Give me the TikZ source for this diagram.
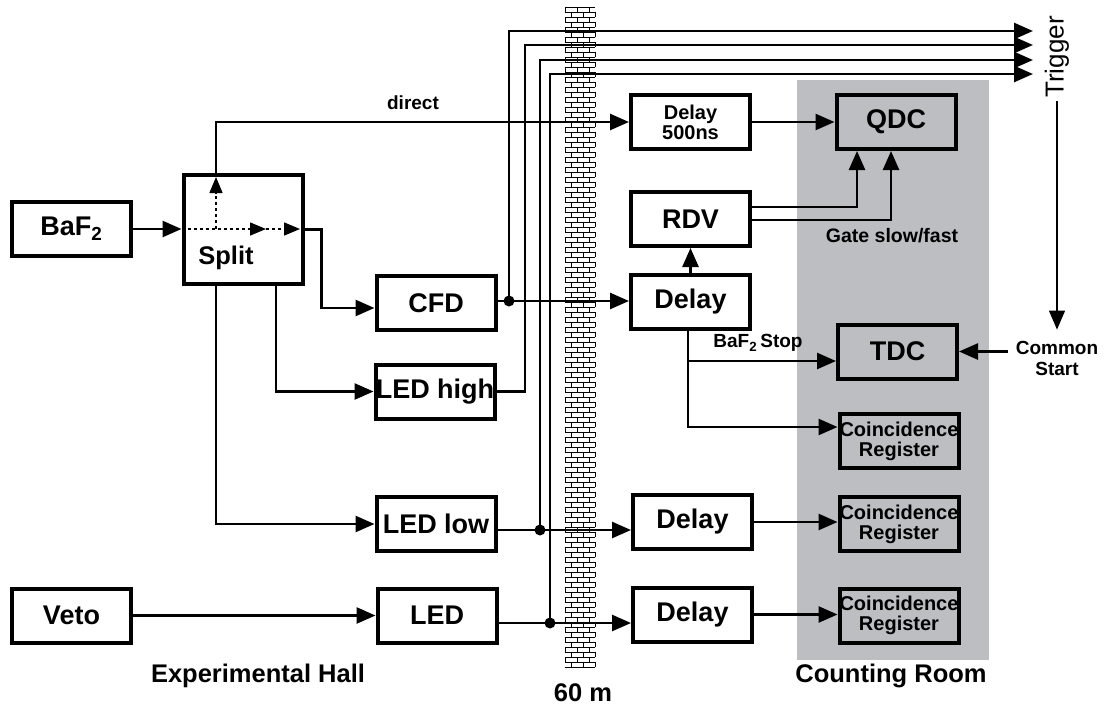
\documentclass[tikz,border=0pt]{standalone}
\usepackage{fontspec}
\setmainfont{Liberation Sans}
\usetikzlibrary{arrows.meta,calc}
\definecolor{roomgray}{RGB}{189,190,194}
\begin{document}
\begin{tikzpicture}[x=1pt,y=-1pt,
  box/.style={draw,line width=4pt,minimum width=119pt,minimum height=54pt,inner sep=0pt,font=\fontsize{27}{29}\selectfont\bfseries},
  smallbox/.style={box,font=\fontsize{20}{20}\selectfont\bfseries,align=center},
  crbox/.style={box,font=\fontsize{20}{20}\selectfont\bfseries,align=center},
  wire/.style={line width=2.6pt},
  arr/.style={wire,-{Triangle[length=19pt,width=16pt]}},
  dotarr/.style={line width=1.5pt,dash pattern=on 3pt off 3pt,-{Triangle[length=16pt,width=13pt]}},
  thinarr/.style={line width=1.4pt,-{Triangle[length=19pt,width=16pt]}},
  jdot/.style={circle,fill,inner sep=0pt,minimum size=11pt},
  lbl/.style={inner sep=0pt,font=\fontsize{25.5}{27}\selectfont\bfseries},
  slbl/.style={inner sep=0pt,font=\fontsize{19}{21}\selectfont\bfseries,align=center},
  brick/.style={line width=0.9pt}
]
\useasboundingbox (0,0) rectangle (1107,707);
% counting room background
\fill[roomgray] (797,80) rectangle (989,660);
% wall
\fill[white] (565,7) rectangle (595,668);
\foreach \i in {0,...,131}{
  \pgfmathsetmacro\yy{7+5*\i}
  \pgfmathsetmacro\yb{\yy+5}
  \draw[brick] (565,\yy) -- (595,\yy);
  \ifodd\i
    \draw[brick] (571,\yy)--(571,\yb) (583,\yy)--(583,\yb) (595,\yy)--(595,\yb);
  \else
    \draw[brick] (565,\yy)--(565,\yb) (577,\yy)--(577,\yb) (589,\yy)--(589,\yb);
  \fi
}
\draw[brick] (565,667) -- (595,667);

% boxes
\node[box] (baf) at (71.5,229) {BaF\textsubscript{2}};
\node[box,minimum height=109pt] (split) at (243,229.5) {};
\node[lbl] (splittxt) at (226,258) {Split};
\node[box] (cfd) at (436,303) {CFD};
\node[box] (ledhigh) at (435,391.5) {LED high};
\node[box] (ledlow) at (436,524) {LED low};
\node[box] (led) at (437,615.5) {LED};
\node[box] (veto) at (71.5,615.5) {Veto};
\node[smallbox] (d500) at (690.5,122) {Delay\\500ns};
\node[box] (rdv) at (690.5,219) {RDV};
\node[box] (dcfd) at (690.5,302) {Delay};
\node[box] (dlow) at (692.5,522) {Delay};
\node[box] (dled) at (692.5,614.5) {Delay};
\node[box] (qdc) at (896,122) {QDC};
\node[box] (tdc) at (897.5,351.5) {TDC};
\node[crbox] (cr1) at (899,441) {Coincidence\\Register};
\node[crbox] (cr2) at (899,524) {Coincidence\\Register};
\node[crbox] (cr3) at (899,615.5) {Coincidence\\Register};

% helper coordinates
\coordinate (v1) at (509,0);
\coordinate (v2) at (525,0);
\coordinate (v3) at (540,0);
\coordinate (v4) at (550,0);
\coordinate (t1) at (1033,31);
\coordinate (t2) at (1033,45);
\coordinate (t3) at (1033,60);
\coordinate (t4) at (1033,74);
\coordinate (g1) at (857,0);
\coordinate (g2) at (891,0);
\coordinate (sx) at (688,0);

% split internals
\coordinate (sj) at (216,229);
\coordinate (sm) at (266,229);
\coordinate (se) at (300,229);
\coordinate (st) at (216,177);
\draw[dotarr] (split.west |- sj) -- (sm);
\draw[dotarr] (sm) -- (se);
\draw[dotarr] (sj) -- (st);

% left side connections
\draw[arr] (baf.east) -- (baf.east -| split.west);
\draw[arr] ([xshift=-27pt]split.north) |- (d500.west);
\node[slbl] (direct) at (413,103) {direct};
\coordinate (cfdin) at ([yshift=-5pt]cfd.west);
\draw[arr] (split.east) -- ++(17,0) |- (cfdin);
\draw[arr] ([xshift=33pt]split.south) |- (ledhigh.west);
\draw[arr] ([xshift=-27pt]split.south) |- (ledlow.west);
\draw[arr] (veto.east) -- (led.west);

% CFD
\coordinate (cfdout) at ([yshift=2pt]cfd.east);
\draw[arr] (cfdout) -- (cfdout -| dcfd.west);
\node[jdot] (j1) at (cfdout -| v1) {};
\draw[arr] (j1.center) |- (t1);
% LED high
\draw[arr] (ledhigh.east) -| (v2 |- t2) -- (t2);
% LED low
\coordinate (lowout) at ([yshift=-6pt]ledlow.east);
\draw[arr] (lowout) -- (lowout -| dlow.west);
\node[jdot] (j3) at (lowout -| v3) {};
\draw[arr] (j3.center) |- (t3);
% LED
\coordinate (ledout) at ([yshift=-7.5pt]led.east);
\draw[arr] (ledout) -- (ledout -| dled.west);
\node[jdot] (j4) at (ledout -| v4) {};
\draw[arr] (j4.center) |- (t4);

% counting room
\draw[arr] (d500.east) -- (qdc.west);
\draw[arr] (dcfd.north) -- (rdv.south);
\draw[arr] ([yshift=12pt]rdv.east) -| (g1 |- qdc.south);
\draw[arr] ([yshift=-1pt]rdv.east) -| (g2 |- qdc.south);
\node[slbl,font=\fontsize{19.5}{21}\selectfont\bfseries] (gate) at (892,236) {Gate slow/fast};
\coordinate (stopy) at ([yshift=-9.5pt]tdc.west);
\coordinate (cry) at ([yshift=14pt]cr1.west);
\draw[arr] (dcfd.south -| sx) |- (cry);
\draw[arr] (stopy -| sx) -- (stopy);
\node[slbl] (stop) at (758,343) {BaF\textsubscript{2}\,Stop};
\draw[arr] (dlow.east) -- (dlow.east -| cr2.west);
\draw[arr] (dled.east) -- (dled.east -| cr3.west);

% trigger and common start
\node[rotate=90,inner sep=3pt,font=\fontsize{26}{28}\selectfont] (trig) at (1057,57) {Trigger};
\node[slbl] (cs) at (1057,358) {Common\\Start};
\draw[thinarr] (trig.west) -- ([yshift=11pt]cs.north);
\draw[arr] ([xshift=-8pt]cs.west |- tdc.east) -- (tdc.east);

% area labels
\node[lbl] (hall) at (258,676) {Experimental Hall};
\node[lbl] (sixty) at (583,693) {60 m};
\node[lbl] (room) at (891,676) {Counting Room};
\end{tikzpicture}
\end{document}
